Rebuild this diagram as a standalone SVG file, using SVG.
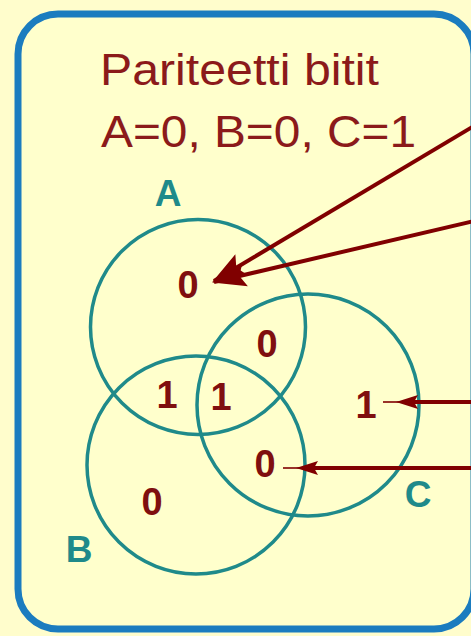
<svg xmlns="http://www.w3.org/2000/svg" width="471" height="636" viewBox="0 0 471 636">
<style>
.title{font-family:"Liberation Sans",Arial,sans-serif;font-size:44px;fill:#8b1a1a}
.lbl{font-family:"Liberation Sans",Arial,sans-serif;font-size:37px;font-weight:bold;fill:#1f8a8a;text-anchor:middle}
.bit{font-family:"Liberation Sans",Arial,sans-serif;font-size:38px;font-weight:bold;fill:#7f0f0f;text-anchor:middle}
.ring{fill:none;stroke:#1f8a8a;stroke-width:3.5}
.arr{fill:none;stroke:#800000;stroke-width:4}
</style>
<defs>
<marker id="head" markerUnits="userSpaceOnUse" markerWidth="40" markerHeight="26" refX="36" refY="13" orient="auto" viewBox="0 0 40 26">
<path d="M38,13 L4,1 L10,13 L4,25 Z" fill="#800000"/>
</marker>
<marker id="headS" markerUnits="userSpaceOnUse" markerWidth="40" markerHeight="16" refX="6" refY="8" orient="auto" viewBox="0 0 40 16">
<path d="M24,8 L2,1 L6,8 L2,15 Z" fill="#800000"/>
<rect x="20" y="7.2" width="17" height="1.6" fill="#800000"/>
</marker>
</defs>
<rect width="471" height="636" fill="#fffdcc"/>
<rect id="frame" x="18" y="14" width="456" height="615" rx="40" fill="#ffffcc" stroke="#1b7cbf" stroke-width="7"/>
<g id="title">
<text class="title" x="100" y="85" textLength="279" lengthAdjust="spacingAndGlyphs">Pariteetti bitit</text>
<text class="title" x="101" y="147" textLength="315" lengthAdjust="spacingAndGlyphs">A=0, B=0, C=1</text>
</g>
<g id="circleA"><circle class="ring" cx="198" cy="327" r="107.5"/><text class="lbl" x="168" y="206">A</text></g>
<g id="circleB"><circle class="ring" cx="196" cy="465" r="109"/><text class="lbl" x="79" y="562">B</text></g>
<g id="circleC"><circle class="ring" cx="308" cy="405" r="111"/><text class="lbl" x="418" y="507">C</text></g>
<g id="bits">
<text class="bit" x="188" y="298">0</text>
<text class="bit" x="267" y="357">0</text>
<text class="bit" x="167" y="408">1</text>
<text class="bit" x="221" y="410">1</text>
<text class="bit" x="366" y="418">1</text>
<text class="bit" x="265" y="477">0</text>
<text class="bit" x="152" y="515">0</text>
</g>
<g id="connectors">
<line class="arr" x1="474" y1="126" x2="214" y2="281" marker-end="url(#head)"/>
<line class="arr" x1="474" y1="221" x2="214" y2="282" marker-end="url(#head)"/>
<path class="arr" d="M474,402 H414" marker-end="url(#headS)"/>
<path class="arr" d="M474,468 H314" marker-end="url(#headS)"/>
</g>
</svg>
